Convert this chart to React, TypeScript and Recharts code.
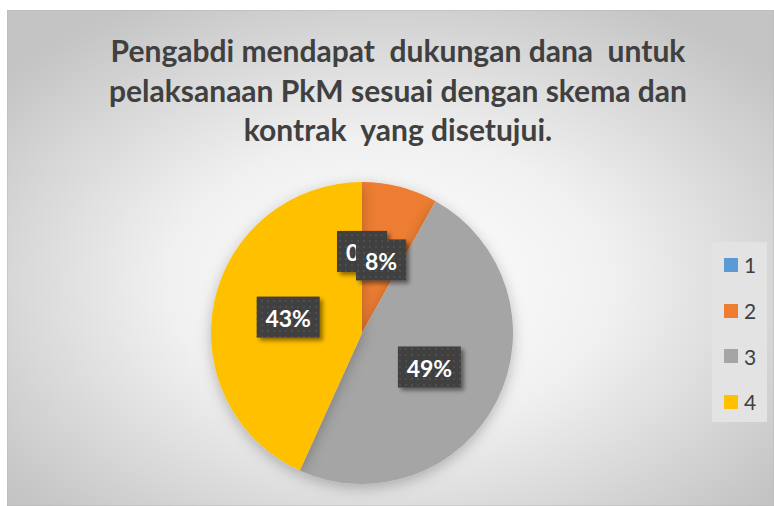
import React from 'react';
import { PieChart, Pie, Cell, Legend } from 'recharts';

const categories = ['1', '2', '3', '4'];
const counts = [0, 3, 18, 16];
const colors = ['#5B9BD5', '#ED7D31', '#A5A5A5', '#FFC000'];
const titleLines = [
  'Pengabdi mendapat  dukungan dana  untuk',
  'pelaksanaan PkM sesuai dengan skema dan',
  'kontrak  yang disetujui.',
];

const data = categories.map((name, i) => ({ name, value: counts[i] }));

const W = 767;
const H = 496;
const FONT = 'Lato, "Open Sans", sans-serif';
const RAD = Math.PI / 180;

// label boxes like the Excel dark callouts
const renderLabel = (props: any) => {
  const { cx, cy, midAngle, outerRadius, percent } = props;
  const r = outerRadius * (percent === 0 ? 0.54 : 0.5);
  const x = cx + r * Math.cos(-midAngle * RAD);
  const y = cy + r * Math.sin(-midAngle * RAD);
  const txt = `${Math.round(percent * 100)}%`;
  const w = txt.length > 2 ? 63 : 50;
  const h = 41;
  return (
    <g>
      <rect x={x - w / 2} y={y - h / 2} width={w} height={h} fill="#404040" filter="url(#lblShadow)" />
      <rect x={x - w / 2} y={y - h / 2} width={w} height={h} fill="url(#dots)" />
      <text
        x={x}
        y={y + 1}
        fill="#fff"
        textAnchor="middle"
        dominantBaseline="central"
        fontFamily={FONT}
        fontWeight={700}
        fontSize={23}
      >
        {txt}
      </text>
    </g>
  );
};

const LegendBox = () => (
  <div
    style={{
      width: 55,
      height: 180,
      background: '#e3e3e3',
      boxSizing: 'border-box',
      paddingTop: 0,
    }}
  >
    {categories.map((c, i) => (
      <div key={c} style={{ display: 'flex', alignItems: 'center', height: 45.7 }}>
        <span style={{ width: 14, height: 14, background: colors[i], marginLeft: 12, display: 'inline-block' }} />
        <span style={{ marginLeft: 6, fontFamily: FONT, fontSize: 21, color: '#404040' }}>{c}</span>
      </div>
    ))}
  </div>
);

export default function App() {
  return (
    <div style={{ position: 'absolute', left: 7, top: 10, width: W, height: H }}>
      <svg width={W} height={H} style={{ position: 'absolute', left: 0, top: 0 }}>
        <defs>
          <radialGradient id="bg" cx="50%" cy="55%" r="65%">
            <stop offset="0%" stopColor="#ffffff" />
            <stop offset="45%" stopColor="#f0f0f0" />
            <stop offset="100%" stopColor="#c4c4c4" />
          </radialGradient>
        </defs>
        <rect x={0} y={0} width={W} height={H} fill="url(#bg)" stroke="#b8b8b8" />
        {titleLines.map((t, i) => (
          <text
            key={i}
            x={391}
            y={52 + i * 39.5}
            textAnchor="middle"
            fontFamily={FONT}
            fontWeight={700}
            fontSize={30}
            fill="#404040"
            style={{ whiteSpace: 'pre' }}
          >
            {t}
          </text>
        ))}
      </svg>
      <PieChart
        width={W}
        height={H}
        margin={{ top: 0, right: 0, bottom: 0, left: 0 }}
        style={{ position: 'absolute', left: 0, top: 0 }}
      >
        <defs>
          <pattern id="dots" width="6" height="6" patternUnits="userSpaceOnUse">
            <circle cx="3" cy="3" r="0.9" fill="#555" />
          </pattern>
          <filter id="lblShadow" x="-20%" y="-20%" width="150%" height="150%">
            <feDropShadow dx="3" dy="3" stdDeviation="2" floodColor="#000" floodOpacity="0.45" />
          </filter>
          <filter id="pieShadow" x="-20%" y="-20%" width="140%" height="140%">
            <feDropShadow dx="0" dy="4" stdDeviation="7" floodColor="#000" floodOpacity="0.25" />
          </filter>
        </defs>
        <Pie
          data={data}
          dataKey="value"
          nameKey="name"
          cx={355}
          cy={323}
          outerRadius={151}
          startAngle={90}
          endAngle={-270}
          stroke="none"
          label={renderLabel}
          labelLine={false}
          isAnimationActive={false}
          style={{ filter: 'url(#pieShadow)' }}
        >
          {data.map((d, i) => (
            <Cell key={d.name} fill={colors[i]} />
          ))}
        </Pie>
        <Legend
          content={<LegendBox />}
          wrapperStyle={{ position: 'absolute', left: 705, top: 232, width: 55, height: 180 }}
        />
      </PieChart>
    </div>
  );
}
